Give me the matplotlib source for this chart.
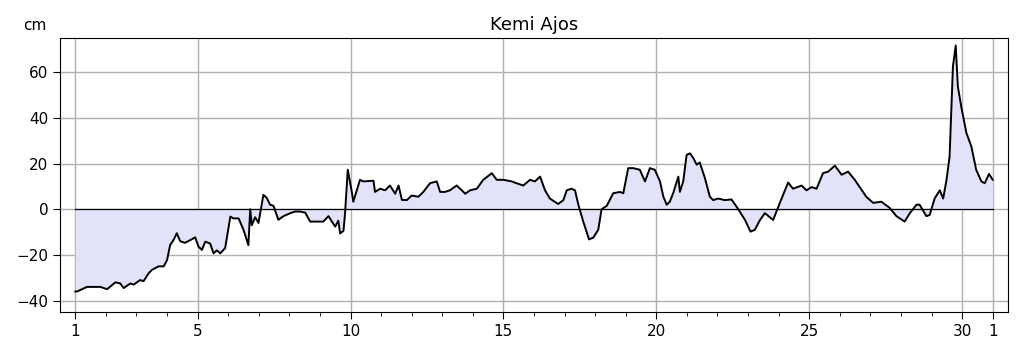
import matplotlib
matplotlib.use("Agg")
import matplotlib.pyplot as plt
from matplotlib.ticker import MultipleLocator

# vedenkorkeus (cm) vs. päivä kuukaudessa, luettu kuvasta
paivat = [1.00, 1.06, 1.38, 1.82, 2.04, 2.31, 2.47, 2.58, 2.80, 2.91, 3.12, 3.23, 3.40, 3.51,
          3.72, 3.89, 4.00, 4.10, 4.21, 4.32, 4.43, 4.59, 4.76, 4.92, 5.03, 5.14, 5.25, 5.41,
          5.52, 5.63, 5.74, 5.90, 6.07, 6.17, 6.34, 6.50, 6.66, 6.72, 6.77, 6.88, 6.99, 7.15,
          7.26, 7.37, 7.48, 7.64, 7.81, 8.03, 8.19, 8.35, 8.52, 8.68, 8.90, 9.11, 9.28, 9.39,
          9.50, 9.60, 9.66, 9.77, 9.82, 9.91, 10.04, 10.09, 10.21, 10.31, 10.42, 10.75, 10.80,
          10.97, 11.13, 11.29, 11.46, 11.57, 11.68, 11.84, 12.00, 12.22, 12.38, 12.60, 12.82,
          12.93, 13.09, 13.25, 13.47, 13.64, 13.75, 13.91, 14.13, 14.34, 14.62, 14.78, 15.00,
          15.27, 15.43, 15.65, 15.87, 16.03, 16.20, 16.36, 16.52, 16.79, 16.96, 17.07, 17.23,
          17.34, 17.45, 17.61, 17.80, 17.94, 18.10, 18.21, 18.38, 18.59, 18.81, 18.92, 19.08,
          19.25, 19.46, 19.63, 19.79, 19.95, 20.12, 20.23, 20.34, 20.44, 20.55, 20.72, 20.77,
          20.88, 20.99, 21.10, 21.21, 21.32, 21.42, 21.59, 21.75, 21.86, 22.02, 22.24, 22.46,
          22.68, 22.90, 23.08, 23.22, 23.39, 23.55, 23.82, 24.04, 24.31, 24.47, 24.75, 24.91,
          25.08, 25.24, 25.45, 25.62, 25.84, 26.06, 26.27, 26.49, 26.65, 26.87, 27.09, 27.36,
          27.63, 27.85, 28.12, 28.29, 28.51, 28.61, 28.83, 28.94, 29.10, 29.27, 29.38, 29.49,
          29.59, 29.70, 29.79, 29.86, 29.97, 30.14, 30.30, 30.46, 30.63, 30.74, 30.88, 31.00]
korkeus = [-36.0, -36.0, -34.0, -34.0, -35.0, -32.0, -32.5, -34.5, -32.5, -33.0, -31.0, -31.5, -28.0, -26.5,
           -25.0, -25.0, -22.3, -15.7, -13.5, -10.5, -14.0, -14.7, -13.5, -12.3, -16.4, -17.8, -14.2, -15.0,
           -19.3, -18.0, -19.3, -17.0, -3.2, -4.0, -4.0, -9.0, -15.7, 0.0, -7.0, -3.5, -6.0, 6.3,
           5.0, 2.0, 1.5, -4.6, -3.0, -1.7, -1.0, -1.0, -1.5, -5.4, -5.4, -5.4, -3.0, -5.4,
           -7.6, -5.0, -10.6, -9.4, -1.9, 17.3, 7.7, 3.3, 8.6, 12.9, 12.2, 12.5, 7.6,
           9.0, 8.3, 10.4, 6.8, 10.4, 4.1, 4.0, 6.0, 5.5, 7.6, 11.4, 12.2,
           7.6, 7.6, 8.3, 10.4, 8.3, 6.8, 8.3, 9.0, 12.9, 15.8, 12.9, 12.9,
           12.2, 11.4, 10.4, 12.9, 12.2, 14.3, 8.3, 4.7, 2.3, 4.0, 8.3, 9.0,
           8.3, 2.0, -5.4, -13.2, -12.4, -9.0, 0.0, 1.5, 7.0, 7.6, 7.0, 18.0,
           18.0, 17.3, 12.2, 18.0, 17.3, 12.2, 5.5, 2.0, 3.3, 7.0, 14.3, 7.6,
           12.2, 23.8, 24.5, 22.4, 19.5, 20.5, 13.6, 5.5, 4.0, 4.7, 4.0, 4.3,
           0.0, -4.7, -9.8, -9.0, -4.7, -1.7, -4.7, 2.8, 11.7, 9.0, 10.4, 8.3,
           9.7, 9.0, 15.8, 16.5, 19.1, 15.1, 16.5, 12.9, 9.7, 5.4, 2.8, 3.3,
           0.6, -3.0, -5.4, -1.7, 2.0, 2.0, -3.0, -2.5, 4.7, 8.3, 4.7, 12.9,
           23.1, 62.6, 71.7, 53.8, 45.0, 33.4, 27.6, 17.3, 12.2, 11.4, 15.5, 12.9]

tick_paikat = [1, 5, 10, 15, 20, 25, 30, 31]
tick_nimet = ['1', '5', '10', '15', '20', '25', '30', '1']
y_ticks = [-40, -20, 0, 20, 40, 60]

fig = plt.figure(figsize=(10.19, 3.52), dpi=100)
ax = fig.add_axes([0.0589, 0.1136, 0.9303, 0.7784])

ax.fill_between(paivat, korkeus, 0, color='#e2e2f9', linewidth=0)
ax.plot([paivat[0], paivat[-1]], [0, 0], color='black', linewidth=0.9)
ax.plot(paivat, korkeus, color='black', linewidth=1.4)

ax.set_xlim(0.5, 31.5)
ax.set_ylim(-45, 75)
ax.set_xticks(tick_paikat)
ax.set_xticklabels(tick_nimet)
ax.xaxis.set_minor_locator(MultipleLocator(1))
ax.set_yticks(y_ticks)
ax.grid(True, which='major', color='#b0b0b0', linewidth=1.0)
ax.set_axisbelow(True)
ax.tick_params(axis='both', which='major', labelsize=11, length=5)
ax.tick_params(axis='x', which='minor', length=3)

ax.set_title('Kemi Ajos', fontsize=13)
fig.text(0.034, 0.905, 'cm', fontsize=11, ha='center', va='bottom')

plt.savefig('out.png', dpi=100)
